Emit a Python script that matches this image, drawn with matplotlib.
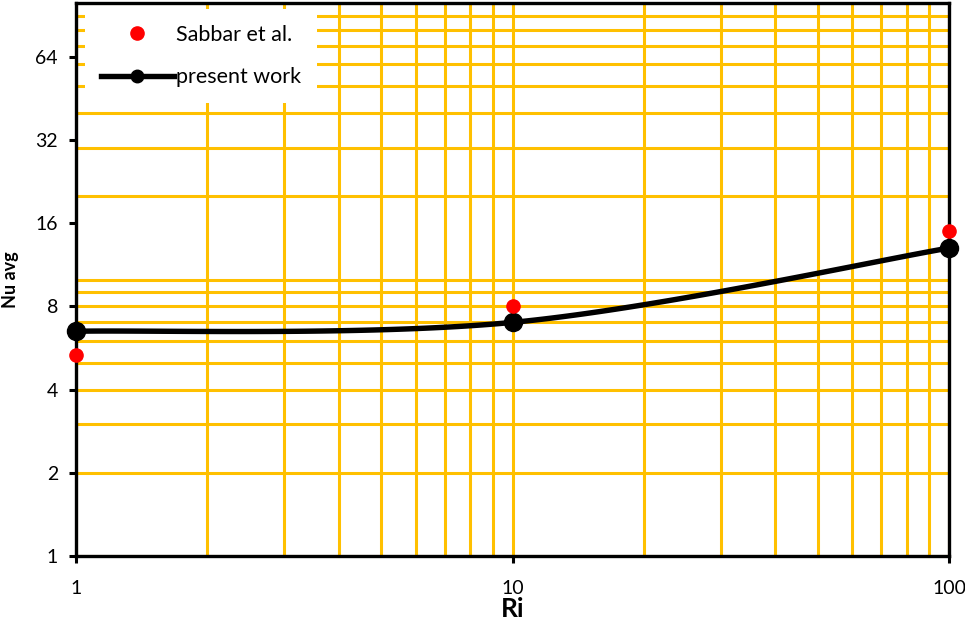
import numpy as np
import matplotlib as mpl
import matplotlib.pyplot as plt
from matplotlib.ticker import LogLocator, NullFormatter, FixedLocator

mpl.rcParams['font.family'] = ['Lato', 'DejaVu Sans']

### data
ri = [1, 10, 100]
nu_sabbar = [5.35, 8.0, 15.0]
nu_present = [6.5, 7.0, 13.0]
y_ticks = [1, 2, 4, 8, 16, 32, 64]
x_ticks = [1, 10, 100]

gold = '#FFC000'


def smooth_line(x, y, n=60):
    """Excel-like smoothed line (bezier, tension 1/6) in log-log space"""
    px = np.log10(x)
    py = np.log10(y)
    P = np.column_stack([px, py])
    out = []
    for i in range(len(P) - 1):
        p0 = P[i - 1] if i > 0 else P[i]
        p1, p2 = P[i], P[i + 1]
        p3 = P[i + 2] if i + 2 < len(P) else P[i + 1]
        c1 = p1 + (p2 - p0) / 6
        c2 = p2 - (p3 - p1) / 6
        t = np.linspace(0, 1, n)[:, None]
        seg = ((1 - t) ** 3) * p1 + 3 * ((1 - t) ** 2) * t * c1 \
            + 3 * (1 - t) * t ** 2 * c2 + t ** 3 * p2
        out.append(seg)
    out = np.vstack(out)
    return 10 ** out[:, 0], 10 ** out[:, 1]


fig = plt.figure(figsize=(9.65, 6.22), dpi=100)
ax = fig.add_axes([0.0788, 0.1061, 0.9046, 0.8889])

ax.set_xscale('log')
ax.set_yscale('log')
ax.set_xlim(1, 100)
ax.set_ylim(1, 100)

# grid: log10 decades with minor lines
ax.xaxis.set_major_locator(FixedLocator(x_ticks))
ax.xaxis.set_minor_locator(LogLocator(base=10, subs=np.arange(2, 10)))
ax.xaxis.set_minor_formatter(NullFormatter())
ax.set_xticklabels([str(v) for v in x_ticks])

ax.yaxis.set_major_locator(FixedLocator(y_ticks))
ax.yaxis.set_minor_locator(LogLocator(base=10, subs=np.arange(1, 10)))
ax.yaxis.set_minor_formatter(NullFormatter())
ax.yaxis.remove_overlapping_locs = False
ax.set_yticklabels([str(v) for v in y_ticks])

ax.grid(True, which='minor', axis='both', color=gold, lw=2.2)
ax.grid(True, which='major', axis='x', color=gold, lw=2.2)
ax.set_axisbelow(True)

ax.tick_params(which='minor', length=0)
ax.tick_params(which='major', direction='out', length=5, width=2.2,
               labelsize=14, colors='black')
ax.tick_params(axis='x', pad=12)
ax.tick_params(axis='y', pad=8)
for s in ax.spines.values():
    s.set_linewidth(2.4)

sx, sy = smooth_line(ri, nu_present)
ax.plot(sx, sy, color='black', lw=3.9, zorder=3, solid_capstyle='round')
ax.plot(ri, nu_present, 'o', color='black', ms=13, zorder=4, clip_on=False)
ax.plot(ri, nu_sabbar, 'o', color='#FF0000', ms=9.5, zorder=5, clip_on=False)

# legend proxies
h1, = ax.plot([], [], 'o', color='#FF0000', ms=9.5)
h2, = ax.plot([], [], 'o-', color='black', lw=3.9, ms=9)
leg = ax.legend([h1, h2], ['Sabbar et al.', 'present work'], loc='upper left',
                bbox_to_anchor=(0.005, 0.998), fontsize=15.5, handlelength=3.4,
                handletextpad=0.1, labelspacing=1.05, borderpad=0.75,
                borderaxespad=0.2, frameon=True, fancybox=False,
                framealpha=1.0, edgecolor='white')
leg.get_frame().set_linewidth(0)

ax.set_xlabel('Ri', fontsize=19, fontweight='bold', labelpad=0)
ax.set_ylabel('Nu avg', fontsize=13, fontweight='bold', labelpad=12)

fig.savefig('out.png', dpi=100)
